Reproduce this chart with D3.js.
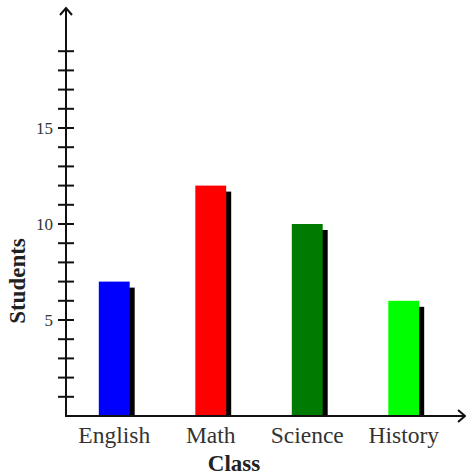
<!DOCTYPE html>
<html>
<head>
<meta charset="utf-8">
<script src="https://cdn.jsdelivr.net/npm/d3@7/dist/d3.min.js"></script>
<style>
  html, body { margin: 0; padding: 0; background: #fff; }
  svg { display: block; }
</style>
</head>
<body>
<svg id="chart" width="466" height="476"></svg>
<script>
// Students per class
const classes = ["English", "Math", "Science", "History"];
const students = [7, 12, 10, 6];
const barColors = ["#0000ff", "#ff0000", "#007a00", "#00ff00"];
const yTickLabels = [5, 10, 15];

const svg = d3.select("#chart");
const originX = 66, originY = 416;

const x = d3.scaleBand()
  .domain(classes)
  .range([originX, 452])
  .paddingInner(0.68)
  .paddingOuter(0.34);

const y = d3.scaleLinear()
  .domain([0, 20])
  .range([originY, 32]);

// drop shadows behind bars
svg.append("g").selectAll("rect")
  .data(classes)
  .join("rect")
  .attr("x", d => x(d) + 5)
  .attr("y", (d, i) => y(students[i]) + 6)
  .attr("width", x.bandwidth())
  .attr("height", (d, i) => originY - y(students[i]) - 6)
  .attr("fill", "#000");

// bars
svg.append("g").selectAll("rect")
  .data(classes)
  .join("rect")
  .attr("x", d => x(d))
  .attr("y", (d, i) => y(students[i]))
  .attr("width", x.bandwidth())
  .attr("height", (d, i) => originY - y(students[i]))
  .attr("fill", (d, i) => barColors[i]);

const ink = "#111";
const serif = "Liberation Serif, Times New Roman, serif";

// y axis with arrow
const yAxis = svg.append("g");
yAxis.append("line")
  .attr("x1", originX).attr("x2", originX)
  .attr("y1", originY).attr("y2", 8)
  .attr("stroke", ink).attr("stroke-width", 2);
yAxis.append("path")
  .attr("d", `M${originX - 6},${15} L${originX},${8} L${originX + 6},${15}`)
  .attr("fill", "none").attr("stroke", ink).attr("stroke-width", 2);

yAxis.selectAll("line.tick")
  .data(d3.range(1, 20))
  .join("line")
  .attr("class", "tick")
  .attr("x1", originX - 8).attr("x2", originX + 8)
  .attr("y1", d => y(d)).attr("y2", d => y(d))
  .attr("stroke", ink).attr("stroke-width", 2);

yAxis.selectAll("text")
  .data(yTickLabels)
  .join("text")
  .attr("x", 53)
  .attr("y", d => y(d))
  .attr("dy", "0.35em")
  .attr("text-anchor", "end")
  .attr("font-family", serif)
  .attr("font-size", 17)
  .attr("fill", "#333")
  .text(d => d);

// x axis with arrow
const xAxis = svg.append("g");
xAxis.append("line")
  .attr("x1", originX - 1).attr("x2", 465)
  .attr("y1", originY).attr("y2", originY)
  .attr("stroke", ink).attr("stroke-width", 2);
xAxis.append("path")
  .attr("d", `M${458},${originY - 6} L${465},${originY} L${458},${originY + 6}`)
  .attr("fill", "none").attr("stroke", ink).attr("stroke-width", 2);

xAxis.selectAll("text")
  .data(classes)
  .join("text")
  .attr("x", d => x(d) + x.bandwidth() / 2)
  .attr("y", 443)
  .attr("text-anchor", "middle")
  .attr("font-family", serif)
  .attr("font-size", 23.5)
  .attr("fill", "#333")
  .text(d => d);

// axis titles
svg.append("text")
  .attr("x", 234).attr("y", 471)
  .attr("text-anchor", "middle")
  .attr("font-family", serif)
  .attr("font-weight", "bold")
  .attr("font-size", 23)
  .attr("fill", "#222")
  .text("Class");

svg.append("text")
  .attr("transform", "translate(25,281) rotate(-90)")
  .attr("text-anchor", "middle")
  .attr("font-family", serif)
  .attr("font-weight", "bold")
  .attr("font-size", 23)
  .attr("fill", "#222")
  .text("Students");
</script>
</body>
</html>
